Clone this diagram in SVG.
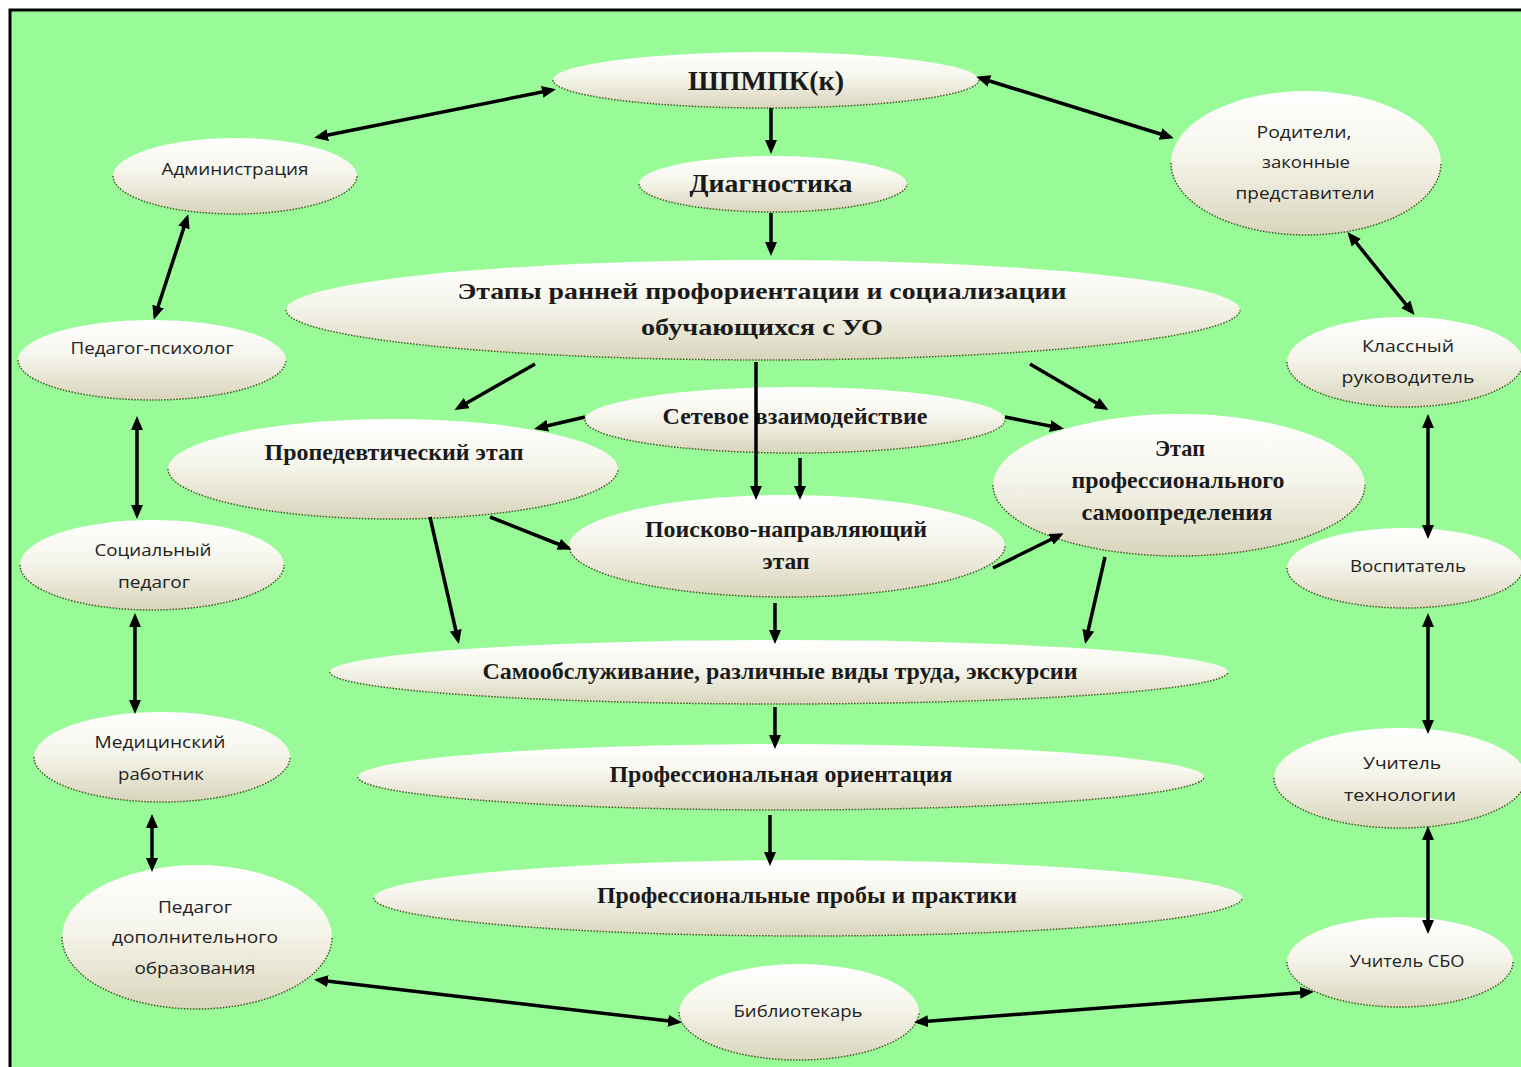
<svg xmlns="http://www.w3.org/2000/svg" width="1521" height="1067" viewBox="0 0 1521 1067">
<defs>
<linearGradient id="g" x1="0" y1="0" x2="0" y2="1">
<stop offset="0" stop-color="#ffffff"/>
<stop offset="0.45" stop-color="#f6f5ec"/>
<stop offset="1" stop-color="#d8d5bb"/>
</linearGradient>
<marker id="ah" viewBox="0 0 14 12" refX="10" refY="6" markerWidth="14" markerHeight="12" markerUnits="userSpaceOnUse" orient="auto-start-reverse">
<path d="M0,0 L14,6 L0,12 z" fill="#000"/>
</marker>
<style>
.n ellipse{fill:url(#g);stroke:none}
.n path{fill:none;stroke:#4a5a2a;stroke-width:1.5;stroke-dasharray:1.5 1.5}
.s{font-family:"Open Sans","DejaVu Sans",sans-serif;font-size:17px;fill:#222;text-anchor:middle}
.b{font-family:"Liberation Serif","Times New Roman",serif;font-size:23px;font-weight:bold;fill:#1a1a1a;text-anchor:middle}
.c line{stroke:#000;stroke-width:3.5}
.c .one{marker-end:url(#ah)}
.c .two{marker-start:url(#ah);marker-end:url(#ah)}
</style>
</defs>
<rect x="0" y="0" width="1521" height="1067" fill="#ffffff"/>
<rect x="10" y="10" width="1530" height="1080" fill="#98fb98" stroke="#000" stroke-width="3"/>

<g id="n-shpmpk" class="n"><ellipse cx="766" cy="80" rx="213" ry="28"/><path d="M553,80 A213,28 0 0 0 979,80"/><text class="b" x="766" y="90" style="font-size:28px" textLength="156" lengthAdjust="spacingAndGlyphs">ШПМПК(к)</text></g>
<g id="n-admin" class="n"><ellipse cx="235" cy="176" rx="122" ry="38"/><path d="M113,176 A122,38 0 0 0 357,176"/><text class="s" x="235" y="175" textLength="147" lengthAdjust="spacingAndGlyphs">Администрация</text></g>
<g id="n-diag" class="n"><ellipse cx="773" cy="184" rx="134" ry="28"/><path d="M639,184 A134,28 0 0 0 907,184"/><text class="b" x="771" y="192" style="font-size:26px" textLength="163" lengthAdjust="spacingAndGlyphs">Диагностика</text></g>
<g id="n-parents" class="n"><ellipse cx="1306" cy="163" rx="135" ry="72"/><path d="M1171,163 A135,72 0 0 0 1441,163"/><text class="s" x="1304" y="138" textLength="95" lengthAdjust="spacingAndGlyphs">Родители,</text><text class="s" x="1306" y="168" textLength="88" lengthAdjust="spacingAndGlyphs">законные</text><text class="s" x="1305" y="199" textLength="139" lengthAdjust="spacingAndGlyphs">представители</text></g>
<g id="n-etapy" class="n"><ellipse cx="763" cy="310" rx="477" ry="50"/><path d="M286,310 A477,50 0 0 0 1240,310"/><text class="b" x="762" y="299" textLength="609" lengthAdjust="spacingAndGlyphs">Этапы ранней профориентации и социализации</text><text class="b" x="762" y="335" textLength="242" lengthAdjust="spacingAndGlyphs">обучающихся с УО</text></g>
<g id="n-psych" class="n"><ellipse cx="152" cy="360" rx="134" ry="40"/><path d="M18,360 A134,40 0 0 0 286,360"/><text class="s" x="152" y="354" textLength="163" lengthAdjust="spacingAndGlyphs">Педагог-психолог</text></g>
<g id="n-klass" class="n"><ellipse cx="1405" cy="362" rx="118" ry="45"/><path d="M1287,362 A118,45 0 0 0 1523,362"/><text class="s" x="1408" y="352" textLength="92" lengthAdjust="spacingAndGlyphs">Классный</text><text class="s" x="1408" y="383" textLength="133" lengthAdjust="spacingAndGlyphs">руководитель</text></g>
<g id="n-set" class="n"><ellipse cx="795" cy="420" rx="210" ry="33"/><path d="M585,420 A210,33 0 0 0 1005,420"/><text class="b" x="795" y="424" textLength="265" lengthAdjust="spacingAndGlyphs">Сетевое взаимодействие</text></g>
<g id="n-proped" class="n"><ellipse cx="393" cy="469" rx="225" ry="50"/><path d="M168,469 A225,50 0 0 0 618,469"/><text class="b" x="394" y="460" textLength="259" lengthAdjust="spacingAndGlyphs">Пропедевтический этап</text></g>
<g id="n-samoopr" class="n"><ellipse cx="1179" cy="485" rx="186" ry="71"/><path d="M993,485 A186,71 0 0 0 1365,485"/><text class="b" x="1180" y="456" textLength="50" lengthAdjust="spacingAndGlyphs">Этап</text><text class="b" x="1178" y="488" textLength="213" lengthAdjust="spacingAndGlyphs">профессионального</text><text class="b" x="1177" y="520" textLength="191" lengthAdjust="spacingAndGlyphs">самоопределения</text></g>
<g id="n-poisk" class="n"><ellipse cx="787" cy="546" rx="218" ry="51"/><path d="M569,546 A218,51 0 0 0 1005,546"/><text class="b" x="786" y="537" textLength="282" lengthAdjust="spacingAndGlyphs">Поисково-направляющий</text><text class="b" x="786" y="569" textLength="47" lengthAdjust="spacingAndGlyphs">этап</text></g>
<g id="n-social" class="n"><ellipse cx="152" cy="565" rx="132" ry="45"/><path d="M20,565 A132,45 0 0 0 284,565"/><text class="s" x="153" y="556" textLength="117" lengthAdjust="spacingAndGlyphs">Социальный</text><text class="s" x="154" y="588" textLength="72" lengthAdjust="spacingAndGlyphs">педагог</text></g>
<g id="n-vosp" class="n"><ellipse cx="1405" cy="568" rx="118" ry="40"/><path d="M1287,568 A118,40 0 0 0 1523,568"/><text class="s" x="1408" y="572" textLength="116" lengthAdjust="spacingAndGlyphs">Воспитатель</text></g>
<g id="n-samoobsl" class="n"><ellipse cx="779" cy="672" rx="449" ry="32"/><path d="M330,672 A449,32 0 0 0 1228,672"/><text class="b" x="780" y="679" textLength="595" lengthAdjust="spacingAndGlyphs">Самообслуживание, различные виды труда, экскурсии</text></g>
<g id="n-med" class="n"><ellipse cx="162" cy="757" rx="128" ry="45"/><path d="M34,757 A128,45 0 0 0 290,757"/><text class="s" x="160" y="748" textLength="131" lengthAdjust="spacingAndGlyphs">Медицинский</text><text class="s" x="161" y="780" textLength="86" lengthAdjust="spacingAndGlyphs">работник</text></g>
<g id="n-tech" class="n"><ellipse cx="1400" cy="778" rx="126" ry="50"/><path d="M1274,778 A126,50 0 0 0 1526,778"/><text class="s" x="1402" y="769" textLength="78" lengthAdjust="spacingAndGlyphs">Учитель</text><text class="s" x="1400" y="801" textLength="112" lengthAdjust="spacingAndGlyphs">технологии</text></g>
<g id="n-orient" class="n"><ellipse cx="781" cy="777" rx="423" ry="33"/><path d="M358,777 A423,33 0 0 0 1204,777"/><text class="b" x="781" y="782" textLength="343" lengthAdjust="spacingAndGlyphs">Профессиональная ориентация</text></g>
<g id="n-dop" class="n"><ellipse cx="197" cy="937" rx="135" ry="72"/><path d="M62,937 A135,72 0 0 0 332,937"/><text class="s" x="195" y="913" textLength="74" lengthAdjust="spacingAndGlyphs">Педагог</text><text class="s" x="195" y="943" textLength="166" lengthAdjust="spacingAndGlyphs">дополнительного</text><text class="s" x="195" y="974" textLength="121" lengthAdjust="spacingAndGlyphs">образования</text></g>
<g id="n-proby" class="n"><ellipse cx="808" cy="898" rx="434" ry="38"/><path d="M374,898 A434,38 0 0 0 1242,898"/><text class="b" x="807" y="903" textLength="420" lengthAdjust="spacingAndGlyphs">Профессиональные пробы и практики</text></g>
<g id="n-sbo" class="n"><ellipse cx="1400" cy="962" rx="113" ry="45"/><path d="M1287,962 A113,45 0 0 0 1513,962"/><text class="s" x="1407" y="967" textLength="115" lengthAdjust="spacingAndGlyphs">Учитель СБО</text></g>
<g id="n-bibl" class="n"><ellipse cx="799" cy="1012" rx="120" ry="48"/><path d="M679,1012 A120,48 0 0 0 919,1012"/><text class="s" x="798" y="1017" textLength="129" lengthAdjust="spacingAndGlyphs">Библиотекарь</text></g>

<g id="connectors" class="c">
<line class="two" x1="318" y1="137" x2="552" y2="90"/>
<line class="two" x1="980" y1="78" x2="1170" y2="137"/>
<line class="one" x1="771" y1="108" x2="771" y2="150"/>
<line class="one" x1="771" y1="213" x2="771" y2="252"/>
<line class="two" x1="187" y1="218" x2="155" y2="316"/>
<line class="two" x1="1350" y1="235" x2="1412" y2="312"/>
<line class="one" x1="535" y1="364" x2="458" y2="408"/>
<line class="one" x1="1030" y1="364" x2="1105" y2="408"/>
<line class="one" x1="756" y1="362" x2="756" y2="496"/>
<line class="one" x1="800" y1="458" x2="800" y2="496"/>
<line class="one" x1="585" y1="417" x2="538" y2="428"/>
<line class="one" x1="1005" y1="417" x2="1060" y2="428"/>
<line class="one" x1="490" y1="517" x2="568" y2="548"/>
<line class="one" x1="993" y1="568" x2="1060" y2="535"/>
<line class="one" x1="430" y1="517" x2="458" y2="640"/>
<line class="one" x1="1105" y1="557" x2="1086" y2="640"/>
<line class="one" x1="775" y1="603" x2="775" y2="640"/>
<line class="one" x1="775" y1="707" x2="775" y2="745"/>
<line class="one" x1="770" y1="815" x2="770" y2="862"/>
<line class="two" x1="137" y1="420" x2="137" y2="515"/>
<line class="two" x1="135" y1="617" x2="135" y2="710"/>
<line class="two" x1="152" y1="818" x2="152" y2="868"/>
<line class="two" x1="1428" y1="418" x2="1428" y2="535"/>
<line class="two" x1="1428" y1="617" x2="1428" y2="730"/>
<line class="two" x1="1428" y1="830" x2="1428" y2="930"/>
<line class="two" x1="318" y1="980" x2="678" y2="1022"/>
<line class="two" x1="918" y1="1022" x2="1310" y2="992"/>
</g>
</svg>
